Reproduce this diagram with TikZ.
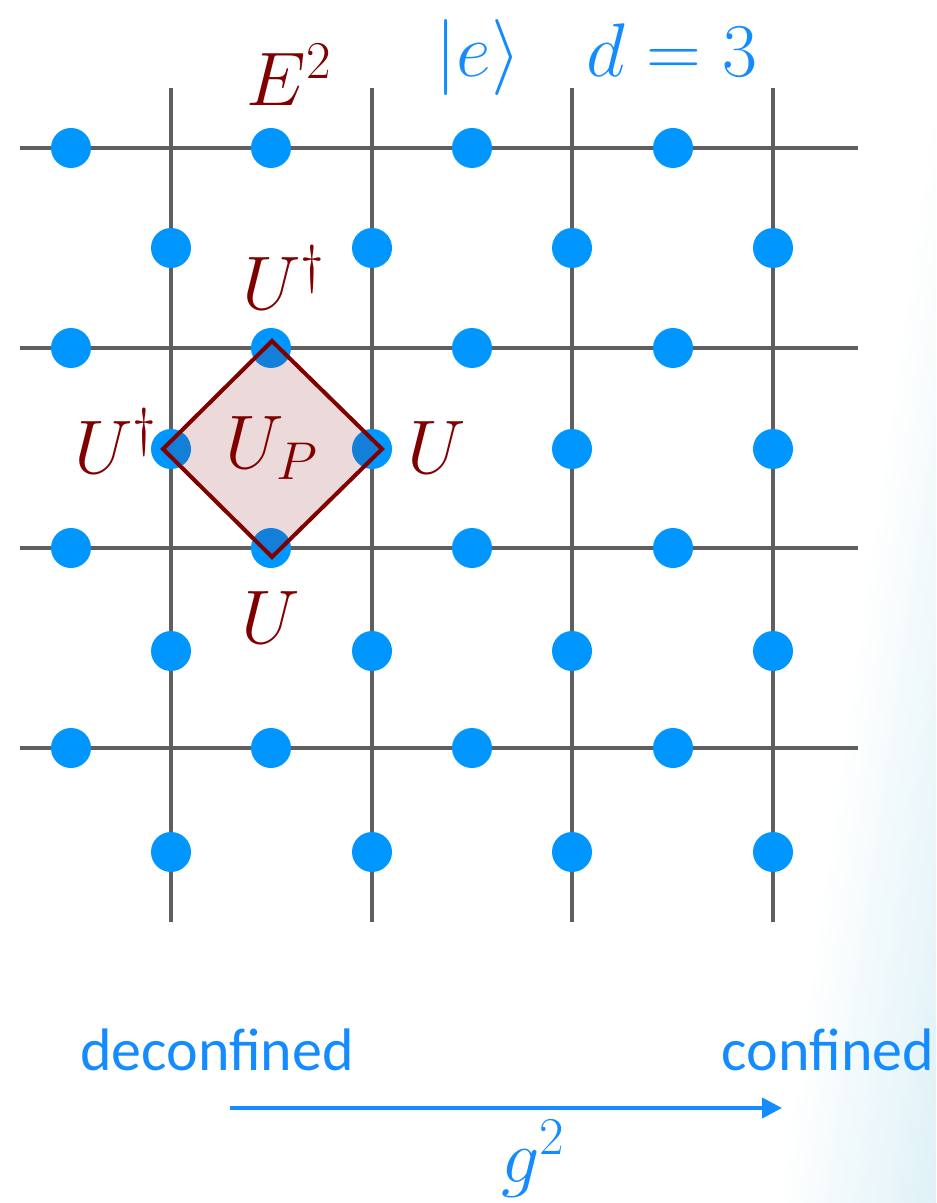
\documentclass[tikz,border=0pt]{standalone}
\usepackage{fix-cm}
\usepackage{fontspec}
\newfontfamily\labelsans{Carlito}
\usetikzlibrary{arrows.meta}
\definecolor{dotblue}{RGB}{0,150,255}
\definecolor{txtblue}{RGB}{20,140,255}
\definecolor{darkred}{RGB}{128,0,0}
\definecolor{gridgray}{RGB}{95,95,95}
\definecolor{bgc}{RGB}{222,241,247}
\pgfdeclarehorizontalshading{bgshade}{800bp}{color(0bp)=(white); color(80bp)=(bgc); color(300bp)=(bgc)}
\begin{document}
\begin{tikzpicture}[x=0.5pt,y=-0.5pt,
 dot/.style={circle,fill=dotblue,minimum size=20pt,inner sep=0},
 gridline/.style={draw=gridgray,line width=2pt},
 oplabel/.style={text=darkred,font=\fontsize{38}{42}\selectfont,inner sep=0,anchor=base},
 bluelabel/.style={text=txtblue,font=\fontsize{38}{42}\selectfont,inner sep=0,anchor=base},
 phase/.style={text=txtblue,font=\labelsans\fontsize{30}{34}\selectfont,inner sep=0,anchor=base},
 plaquette/.style={draw=darkred,line width=2pt,fill=darkred,fill opacity=0.15,line join=miter},
 flow/.style={draw=txtblue,line width=2pt,-{Triangle[length=10pt,width=10pt]}}
]
\useasboundingbox (0,0) rectangle (936,1203);
\begin{scope}
\clip (0,0) rectangle (936,1203);
\node[inner sep=0,anchor=west,rotate=-8] (bg) at (860,600) {\pgfuseshading{bgshade}};
\end{scope}
% grid
\foreach \j/\y in {0/148,1/348,2/548,3/748}{
  \coordinate (hL\j) at (20,\y); \coordinate (hR\j) at (858,\y);
  \draw[gridline] (hL\j) -- (hR\j);}
\foreach \i/\x in {0/171,1/372,2/572,3/773}{
  \coordinate (vT\i) at (\x,88); \coordinate (vB\i) at (\x,922);
  \draw[gridline] (vT\i) -- (vB\i);}
% dots
\foreach \i/\x in {0/71,1/271,2/472,3/673}
  \foreach \j/\y in {0/148,1/348,2/548,3/748}
    \node[dot] (h\i\j) at (\x,\y) {};
\foreach \i/\x in {0/171,1/372,2/572,3/773}
  \foreach \j/\y in {0/248,1/449,2/651,3/852}
    \node[dot] (v\i\j) at (\x,\y) {};
% plaquette
\coordinate (pT) at (272,341);
\coordinate (pR) at (382,449);
\coordinate (pB) at (272,557);
\coordinate (pL) at (163,449);
\path[plaquette] (pT) -- (pR) -- (pB) -- (pL) -- cycle;
% labels
\node[oplabel] (E2) at (289,106) {$E^2$};
\node[bluelabel] (ket) at (478,77) {$|e\rangle$};
\node[bluelabel] (dim) at (672,77) {$d=3$};
\node[oplabel] (Ut) at (284,310) {$U^\dagger$};
\node[oplabel] (Ul) at (116,473) {$U^\dagger$};
\node[oplabel] (UP) at (272,468) {$U_P$};
\node[oplabel] (Ur) at (437,473) {$U$};
\node[oplabel] (Ub) at (271,643) {$U$};
% phases
\node[phase] (dec) at (217,1070) {deconfined};
\node[phase] (conf) at (828,1070) {confined};
\coordinate (aS) at (230,1108);
\coordinate (aE) at (782,1108);
\draw[flow] (aS) -- (aE);
\node[bluelabel] (g2) at (533,1182) {$g^2$};
\end{tikzpicture}
\end{document}
